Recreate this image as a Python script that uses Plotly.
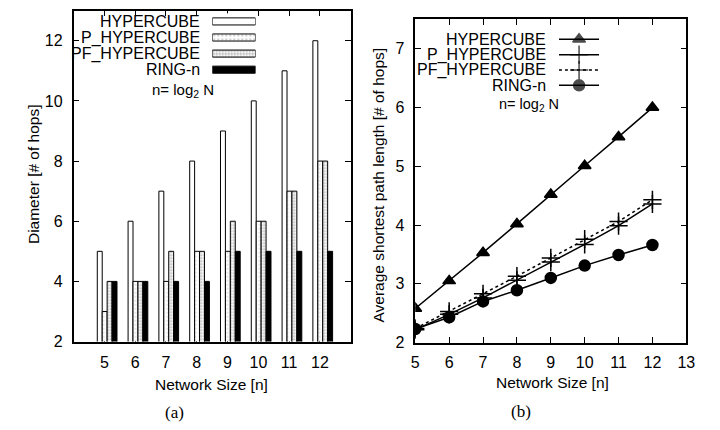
import plotly.graph_objects as go

# ---------------- data ----------------
sizes = [5, 6, 7, 8, 9, 10, 11, 12]
series_names = ["HYPERCUBE", "P_HYPERCUBE", "PF_HYPERCUBE", "RING-n"]

# (a) diameter
diam_hyper = [5, 6, 7, 8, 9, 10, 11, 12]
diam_p = [3, 4, 4, 5, 5, 6, 7, 8]
diam_pf = [4, 4, 5, 5, 6, 6, 7, 8]
diam_ring = [4, 4, 4, 4, 5, 5, 5, 5]

# (b) average shortest path length
asp_hyper = [2.58, 3.05, 3.53, 4.02, 4.52, 5.01, 5.50, 6.00]
asp_p = [2.22, 2.48, 2.76, 3.06, 3.37, 3.67, 3.99, 4.36]
asp_pf = [2.24, 2.53, 2.83, 3.13, 3.44, 3.76, 4.06, 4.43]
asp_ring = [2.23, 2.43, 2.70, 2.89, 3.10, 3.31, 3.49, 3.66]

left_yticks = [2, 4, 6, 8, 10, 12]
right_yticks = [2, 3, 4, 5, 6, 7]
right_xticks = [5, 6, 7, 8, 9, 10, 11, 12, 13]

# ---------------- styles ----------------
FONT = "Liberation Sans, Arial, sans-serif"
SERIF = "Liberation Serif, Times New Roman, serif"
bar_fill = ["white", "white", "white", "black"]
bar_pattern = [
    dict(shape=""),
    dict(shape=".", fgcolor="#999999", bgcolor="white", size=4, solidity=0.15),
    dict(shape=".", fgcolor="#606060", bgcolor="white", size=3, solidity=0.4),
    dict(shape=""),
]
bar_offsets = [-0.23, -0.07, 0.09, 0.25]
bar_width = 0.16

line_symbols = ["triangle-up", "cross-thin", "cross-thin", "circle"]
line_dash = ["solid", "solid", "dot", "solid"]
marker_size = [11, 13, 13, 11]

fig = go.Figure()

# ---------- (a) bars ----------
for name, vals, fill, pat, off in zip(series_names,
                                      [diam_hyper, diam_p, diam_pf, diam_ring],
                                      bar_fill, bar_pattern, bar_offsets):
    fig.add_trace(go.Bar(
        x=sizes, y=vals, name=name, base=0,
        offset=off, width=bar_width,
        marker=dict(color=fill, pattern=pat, line=dict(color="black", width=1)),
        xaxis="x", yaxis="y", showlegend=False,
    ))

# ---------- (b) lines ----------
for name, vals, sym, dash, ms in zip(series_names,
                                     [asp_hyper, asp_p, asp_pf, asp_ring],
                                     line_symbols, line_dash, marker_size):
    fig.add_trace(go.Scatter(
        x=sizes, y=vals, name=name, mode="lines+markers",
        line=dict(color="black", width=1.5, dash=dash),
        marker=dict(symbol=sym, size=ms, color="black",
                    line=dict(color="black", width=1.5)),
        xaxis="x2", yaxis="y2", showlegend=False,
    ))

# ---------- custom legend (a): swatches on auxiliary axis ----------
leg_rows = [3, 2, 1, 0]
fig.add_trace(go.Bar(
    x=[1, 1, 1, 1], y=leg_rows, orientation="h", base=0,
    offset=-0.22, width=0.44,
    marker=dict(color=bar_fill,
                pattern=dict(shape=["", ".", ".", ""],
                             fgcolor=["black", "#999999", "#606060", "black"],
                             bgcolor=["white", "white", "white", "black"],
                             size=[4, 4, 3, 4],
                             solidity=[0.1, 0.15, 0.4, 0.1]),
                line=dict(color="black", width=1)),
    xaxis="x3", yaxis="y3", showlegend=False, hoverinfo="skip",
))

# ---------- custom legend (b): line samples on auxiliary axis ----------
for r, sym, dash, ms in zip(leg_rows, line_symbols, line_dash, marker_size):
    fig.add_trace(go.Scatter(
        x=[0, 0.5, 1], y=[r, r, r], mode="lines+markers",
        line=dict(color="black", width=1.5, dash=dash),
        marker=dict(symbol=sym, size=[0, ms, 0], color="black",
                    line=dict(color="black", width=1.5)),
        xaxis="x4", yaxis="y4", showlegend=False, hoverinfo="skip",
    ))

axis_common = dict(
    showline=True, linecolor="black", linewidth=1.5, mirror="allticks",
    ticks="inside", ticklen=6, tickwidth=1.2, tickcolor="black",
    showgrid=False, zeroline=False,
    tickfont=dict(family=FONT, size=16, color="black"),
)


def txt(x, y, text, xanchor="center", size=15.5, family=FONT, angle=0):
    return dict(x=x / 720, y=1 - y / 430, xref="paper", yref="paper", text=text,
                showarrow=False, xanchor=xanchor, yanchor="middle", textangle=angle,
                font=dict(family=family, size=size, color="black"))


annotations = []
# legend texts (a)
leg_a_y = [13.7, 31, 46.5, 63]
for name, yy in zip(series_names, leg_a_y):
    annotations.append(txt(194, yy, name, xanchor="right", size=16))
annotations.append(txt(174, 84, "n= log<sub>2</sub> N", size=15))
# legend texts (b)
leg_b_y = [32, 48, 63, 79]
for name, yy in zip(series_names, leg_b_y):
    annotations.append(txt(546, yy, name, xanchor="right", size=16))
annotations.append(txt(527, 99, "n= log<sub>2</sub> N", size=14.5))
# axis titles and captions
annotations += [
    txt(22, 170, "Diameter [# of hops]", angle=-90),
    txt(373, 181, "Average shortest path length [# of hops]", angle=-90),
    txt(203, 385, "Network Size [n]"),
    txt(550, 383, "Network Size [n]"),
    txt(165, 413, "(a)", family=SERIF, size=17),
    txt(518, 412, "(b)", family=SERIF, size=17),
]

fig.update_layout(
    width=720, height=430,
    margin=dict(l=0, r=0, t=0, b=0),
    paper_bgcolor="white", plot_bgcolor="white",
    barmode="overlay",
    showlegend=False,
    xaxis=dict(domain=[62.7 / 720, 345 / 720], range=[4, 13], tickvals=sizes,
               layer="below traces", anchor="y", ticklabelstandoff=5, **axis_common),
    yaxis=dict(domain=[1 - 340.7 / 430, 1 - 2.7 / 430], range=[2, 13], tickvals=left_yticks,
               anchor="x", ticklabelstandoff=6, **axis_common),
    xaxis2=dict(domain=[410.7 / 720, 686.7 / 720], range=[5, 13], tickvals=right_xticks,
                anchor="y2", ticklabelstandoff=5, **axis_common),
    yaxis2=dict(domain=[1 - 341.7 / 430, 1 - 11.7 / 430], range=[2, 7.5], tickvals=right_yticks,
                anchor="x2", ticklabelstandoff=6, **axis_common),
    xaxis3=dict(domain=[204 / 720, 248 / 720], range=[0, 1], visible=False, anchor="y3"),
    yaxis3=dict(domain=[1 - 71.2 / 430, 1 - 5.5 / 430], range=[-0.5, 3.5], visible=False, anchor="x3"),
    xaxis4=dict(domain=[557 / 720, 598 / 720], range=[0, 1], visible=False, anchor="y4"),
    yaxis4=dict(domain=[1 - 86.85 / 430, 1 - 24.15 / 430], range=[-0.5, 3.5], visible=False, anchor="x4"),
    annotations=annotations,
)

fig.write_html("out.html")
